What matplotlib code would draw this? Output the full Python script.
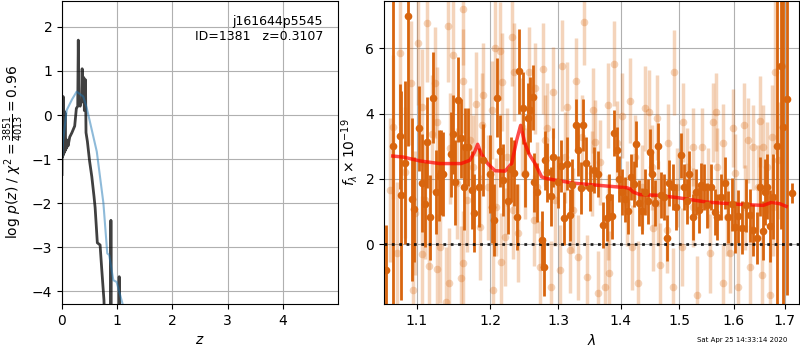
import matplotlib.pyplot as plt
from matplotlib.ticker import NullLocator, NullFormatter

# left panel: redshift probability
z_chi = [0.000, 0.005, 0.012, 0.020, 0.028, 0.035, 0.045, 0.055, 0.065, 0.075,
         0.085, 0.095, 0.110, 0.140, 0.180, 0.230, 0.260, 0.285, 0.295, 0.305,
         0.330, 0.355, 0.365, 0.375, 0.395, 0.405, 0.425, 0.435, 0.460, 0.500,
         0.540, 0.580, 0.600, 0.640, 0.690, 0.720, 0.760, 0.790, 0.880, 0.886,
         0.892, 1.030, 1.036, 1.042, 1.200]
logp_chi = [-1.35, 0.40, -0.95, 0.42, -0.90, 0.10, -0.85, 0.05, -0.80, -0.55,
            -0.75, -0.60, -0.70, -0.50, -0.40, -0.25, 0.15, 0.20, 1.70, 0.25,
            0.20, 0.35, 1.05, 0.30, 0.85, 0.10, 0.80, -0.40, -0.60, -1.05,
            -1.40, -1.85, -2.10, -2.90, -2.95, -3.50, -4.20, -5.50, -5.50, -2.39,
            -5.50, -5.50, -3.67, -5.50, -5.50]

z_pz = [0.000, 0.020, 0.085, 0.180, 0.265, 0.385, 0.450, 0.540, 0.630, 0.750,
        0.820, 0.855, 0.930, 0.990, 1.100, 1.200]
logp_pz = [-1.00, -0.57, 0.11, 0.35, 0.53, 0.42, 0.15, -0.34, -0.83, -2.00,
           -3.14, -3.18, -3.75, -3.79, -4.30, -5.00]

# right panel: spectrum
dark_wave = [1.061, 1.0695, 1.078, 1.080, 1.084, 1.088, 1.093, 1.096, 1.103, 1.107,
             1.111, 1.113, 1.117, 1.121, 1.125, 1.129, 1.132, 1.135, 1.145, 1.148,
             1.151, 1.155, 1.159, 1.163, 1.165, 1.169, 1.174, 1.177, 1.184, 1.189,
             1.1995, 1.202, 1.205, 1.210, 1.2135, 1.218, 1.2255, 1.2295, 1.234, 1.2377,
             1.2416, 1.2466, 1.2505, 1.255, 1.2574, 1.2614, 1.264, 1.2675, 1.276, 1.279,
             1.280, 1.2835, 1.2886, 1.2925, 1.300, 1.305, 1.3095, 1.314, 1.318, 1.322,
             1.327, 1.3313, 1.336, 1.339, 1.3435, 1.350, 1.357, 1.3623, 1.3713, 1.3768,
             1.381, 1.385, 1.389, 1.3937, 1.3976, 1.402, 1.4075, 1.4125, 1.4172, 1.4217,
             1.4256, 1.4306, 1.436, 1.440, 1.445, 1.4495, 1.4535, 1.458, 1.463, 1.468,
             1.474, 1.479, 1.483, 1.490, 1.4945, 1.504, 1.508, 1.514, 1.518, 1.525,
             1.5295, 1.535, 1.540, 1.544, 1.550, 1.558, 1.565, 1.5695, 1.5757, 1.583,
             1.589, 1.5965, 1.603, 1.6085, 1.616, 1.6245, 1.631, 1.6375, 1.644, 1.650,
             1.6565, 1.661, 1.665, 1.670, 1.6765, 1.684, 1.692, 1.696, 1.704, 1.7135]
dark_flux = [-0.80, 3.00, 3.30, 1.50, 2.50, 7.00, 1.37, 1.07, 3.55, 1.87,
             1.22, 3.12, 0.82, 4.49, 1.60, 2.10, 2.20, 2.15, 2.75, 3.36,
             1.90, 4.43, 3.24, 1.74, 2.98, 2.98, 1.67, 0.96, 1.74, 2.59,
             2.15, 1.15, 0.73, 4.49, 2.85, 1.96, 1.31, 2.29, 2.18, 0.83,
             5.29, 4.18, 2.14, 3.85, 4.12, 4.50, 1.90, 1.59, 0.12, -0.70,
             2.57, 2.20, 1.47, 2.66, 1.90, 2.39, 0.79, 2.47, 0.89, 1.80,
             3.64, 2.90, 1.73, 3.64, 2.49, 1.73, 2.28, 2.15, 0.58, 0.79,
             1.45, 0.85, 3.40, 2.90, 2.00, 1.60, 1.37, 1.02, 2.06, 1.84,
             3.08, 1.26, 1.02, 1.60, 1.31, 2.83, 2.15, 1.27, 3.00, 1.50,
             1.45, 0.18, 1.87, 1.76, 1.14, 2.72, 1.76, 1.31, 2.15, 0.84,
             1.60, 1.04, 1.80, 1.76, 1.19, 1.76, 0.99, 0.84, 1.45, 1.87,
             0.84, 1.22, 0.53, 0.85, 0.51, 1.19, 0.88, 0.43, 0.18, 1.76,
             0.41, 1.60, 1.76, 0.55, 1.45, 3.00, 5.47, 3.60, 4.45, 1.56]
dark_err = [1.4, 6.0, 1.6, 3.2, 2.5, 4.0, 2.5, 1.6, 1.3, 1.5,
            1.3, 1.4, 1.3, 1.4, 1.3, 1.4, 1.3, 1.3, 1.3, 1.2,
            1.3, 1.3, 1.2, 1.3, 1.2, 1.2, 1.2, 1.2, 1.2, 1.1,
            1.2, 1.1, 1.1, 1.2, 1.1, 1.1, 1.0, 1.0, 1.0, 1.0,
            1.3, 1.1, 1.0, 1.1, 1.0, 1.0, 0.9, 0.9, 0.9, 0.9,
            0.9, 0.9, 0.9, 0.9, 0.8, 0.8, 0.8, 0.8, 0.8, 0.8,
            0.8, 0.8, 0.8, 0.8, 0.8, 0.7, 0.7, 0.7, 0.7, 0.7,
            0.7, 0.7, 0.7, 0.7, 0.7, 0.7, 0.7, 0.7, 0.7, 0.7,
            0.7, 0.7, 0.7, 0.7, 0.7, 0.7, 0.7, 0.7, 0.7, 0.7,
            0.7, 0.7, 0.7, 0.7, 0.7, 0.7, 0.7, 0.7, 0.7, 0.7,
            0.7, 0.7, 0.7, 0.7, 0.7, 0.7, 0.7, 0.7, 0.7, 0.8,
            0.8, 0.8, 0.8, 0.8, 0.8, 0.8, 0.8, 0.8, 0.8, 0.9,
            0.9, 1.0, 1.0, 1.1, 1.3, 5.0, 5.0, 6.0, 6.0, 0.3]

light_wave = [1.113, 1.141, 1.162, 1.101, 1.078, 1.092, 1.124, 1.148, 1.161, 1.179,
              1.190, 1.206, 1.2135, 1.216, 1.2307, 1.2345, 1.2553, 1.2651, 1.277, 1.292,
              1.306, 1.3275, 1.340, 1.355, 1.379, 1.389, 1.402, 1.440, 1.447, 1.4905,
              1.5075, 1.5615, 1.567, 1.599, 1.6195, 1.651, 1.674, 1.680, 1.694,
              1.074, 1.095, 1.1065, 1.1155, 1.126, 1.130, 1.1425, 1.139, 1.159, 1.162,
              1.185, 1.2035, 1.215, 1.221, 1.240, 1.2636, 1.2724, 1.289, 1.3028, 1.318,
              1.331, 1.345, 1.363, 1.374, 1.3805, 1.4187, 1.429, 1.454, 1.4665, 1.479,
              1.489, 1.505, 1.532, 1.556, 1.580, 1.593, 1.608, 1.631, 1.655, 1.670,
              1.0655, 1.084, 1.0975, 1.1105, 1.127, 1.144, 1.153, 1.1665, 1.175, 1.188,
              1.196, 1.2075, 1.2235, 1.232, 1.250, 1.268, 1.2795, 1.295, 1.3105, 1.3233,
              1.337, 1.353, 1.366, 1.379, 1.3937, 1.4105, 1.4233, 1.435, 1.452, 1.463,
              1.4805, 1.496, 1.514, 1.525, 1.5413, 1.5523, 1.569, 1.587, 1.603, 1.621,
              1.637, 1.647, 1.6645, 1.6765, 1.686,
              1.069, 1.1065, 1.1195, 1.171, 1.2022, 1.2455, 1.283, 1.3135, 1.358, 1.415,
              1.4615, 1.525, 1.580, 1.627, 1.6565]
light_flux = [6.76, 6.67, 7.19, 6.15, 5.84, 4.95, 4.95, 5.78, 5.00, 4.30,
              4.56, 6.02, 5.93, 4.98, 6.36, 5.26, 5.26, 4.77, 5.38, 4.65,
              5.47, 5.00, 6.79, 4.10, 4.25, 5.53, 3.94, 4.16, 4.04, 5.26,
              3.73, 3.73, 4.04, 3.55, 3.64, 3.76, 3.27, 5.26, 5.47,
              -0.28, -1.41, -0.31, -0.67, -0.76, -0.09, -1.19, -1.77, -1.04, -0.58,
              0.52, -1.41, -0.55, 0.21, 0.34, 0.73, -0.70, -1.31, -0.80, -0.18,
              -0.40, -1.01, -1.50, -1.31, -0.89, -0.09, -1.19, 0.49, -0.64, 0.43,
              -1.31, -0.09, -1.56, -0.28, -1.19, -0.28, -1.31, -0.70, -0.95, -1.56,
              1.65, 2.20, 0.95, 1.35, 3.73, 2.94, 1.87, 1.35, 2.35, 3.64,
              1.74, 1.13, 2.66, 1.04, 2.17, 1.74, 3.18, 1.35, 2.66, 1.04,
              3.27, 2.17, 2.51, 0.83, 3.09, 1.25, 2.66, 1.74, 2.35, 1.25,
              3.09, 1.74, 2.35, 1.13, 2.97, 1.74, 2.35, 0.83, 2.17, 1.13,
              2.97, 1.74, 2.35, 1.13, 2.57,
              3.58, 4.19, 3.39, 3.18, 4.10, 3.58, 3.55, 4.19, 3.12, 4.40,
              3.88, 2.97, 3.09, 3.18, 2.97]
light_err = [1.8, 1.7, 1.7, 1.9, 2.2, 1.9, 1.7, 1.7, 1.6, 1.6,
             1.6, 1.5, 1.5, 1.5, 1.5, 1.5, 1.4, 1.4, 1.4, 1.4,
             1.4, 1.3, 1.3, 1.3, 1.3, 1.3, 1.3, 1.3, 1.3, 1.3,
             1.2, 1.2, 1.2, 1.2, 1.3, 1.4, 1.6, 2.5, 3.0,
             2.2, 1.9, 1.8, 1.8, 1.7, 1.7, 1.7, 1.7, 1.6, 1.6,
             1.6, 1.5, 1.5, 1.5, 1.5, 1.4, 1.4, 1.4, 1.4, 1.3,
             1.3, 1.3, 1.3, 1.3, 1.3, 1.3, 1.3, 1.3, 1.3, 1.3,
             1.2, 1.2, 1.2, 1.2, 1.2, 1.2, 1.3, 1.3, 1.4, 1.6,
             2.2, 2.0, 1.9, 1.8, 1.7, 1.7, 1.7, 1.6, 1.6, 1.6,
             1.6, 1.5, 1.5, 1.5, 1.4, 1.4, 1.4, 1.4, 1.4, 1.3,
             1.3, 1.3, 1.3, 1.3, 1.3, 1.3, 1.3, 1.3, 1.3, 1.3,
             1.2, 1.2, 1.2, 1.2, 1.2, 1.2, 1.2, 1.2, 1.2, 1.3,
             1.3, 1.3, 1.4, 1.5, 1.8,
             2.2, 1.8, 1.8, 1.6, 1.5, 1.5, 1.4, 1.4, 1.3, 1.3,
             1.3, 1.2, 1.2, 1.3, 1.3]

model_wave = [1.069, 1.082, 1.104, 1.130, 1.159, 1.171, 1.1775, 1.182, 1.187, 1.196,
              1.2065, 1.221, 1.2305, 1.2377, 1.2436, 1.250, 1.2564, 1.265, 1.275, 1.2825,
              1.3238, 1.366, 1.4097, 1.415, 1.4205, 1.432, 1.461, 1.4957, 1.550, 1.612,
              1.657, 1.673, 1.690, 1.7025]
model_flux = [2.70, 2.67, 2.55, 2.47, 2.47, 2.57, 2.82, 3.06, 2.77, 2.47,
              2.25, 2.24, 2.47, 3.18, 3.64, 3.08, 2.75, 2.47, 2.06, 2.01,
              1.87, 1.80, 1.73, 1.70, 1.60, 1.52, 1.50, 1.43, 1.29, 1.22,
              1.19, 1.28, 1.24, 1.16]

fig = plt.figure(figsize=(8, 3.5), dpi=100)

ax = fig.add_axes([0.0775, 0.1314, 0.345, 0.866])
ax.plot(z_chi, logp_chi, color='k', alpha=0.75, lw=2)
ax.plot(z_pz, logp_pz, color='tab:blue', alpha=0.5, lw=1.5)
ax.set_xlim(0, 5.0)
ax.set_ylim(-4.29, 2.59)
ax.set_xticks([0, 1, 2, 3, 4])
ax.set_yticks([-4, -3, -2, -1, 0, 1, 2])
ax.grid()
ax.set_xlabel(r'$z$')
ax.set_ylabel(r'log $p(z)$ / $\chi^2=\frac{3851}{4013}=0.96$')
ax.text(0.946, 0.955, 'j161644p5545\nID=1381   z=0.3107', transform=ax.transAxes,
        ha='right', va='top', fontsize=9)

spec_color = '#d8650e'
ax2 = fig.add_axes([0.48, 0.1314, 0.519, 0.866])
ax2.errorbar(light_wave, light_flux, light_err, fmt='o', color=spec_color, alpha=0.28,
             ms=5.5, mew=0, elinewidth=2.5)
ax2.errorbar(dark_wave, dark_flux, dark_err, fmt='o', color=spec_color,
             ms=5.5, mew=0, elinewidth=2)
ax2.plot(model_wave, model_flux, color='r', alpha=0.7, lw=2.5)
ax2.axhline(0, color='k', ls=':', lw=2, alpha=0.85)
ax2.set_xscale('log')
ax2.set_xlim(1.058, 1.729)
ax2.set_ylim(-1.83, 7.45)
ax2.set_xticks([1.1, 1.2, 1.3, 1.4, 1.5, 1.6, 1.7])
ax2.set_xticklabels(['1.1', '1.2', '1.3', '1.4', '1.5', '1.6', '1.7'])
ax2.xaxis.set_minor_locator(NullLocator())
ax2.xaxis.set_minor_formatter(NullFormatter())
ax2.set_yticks([0, 2, 4, 6])
ax2.grid()
ax2.set_xlabel(r'$\lambda$')
ax2.set_ylabel(r'$f_\lambda \times 10^{-19}$')

fig.text(0.984, 0.028, 'Sat Apr 25 14:33:14 2020', ha='right', va='center', fontsize=5)

fig.savefig('out.png', dpi=100)
